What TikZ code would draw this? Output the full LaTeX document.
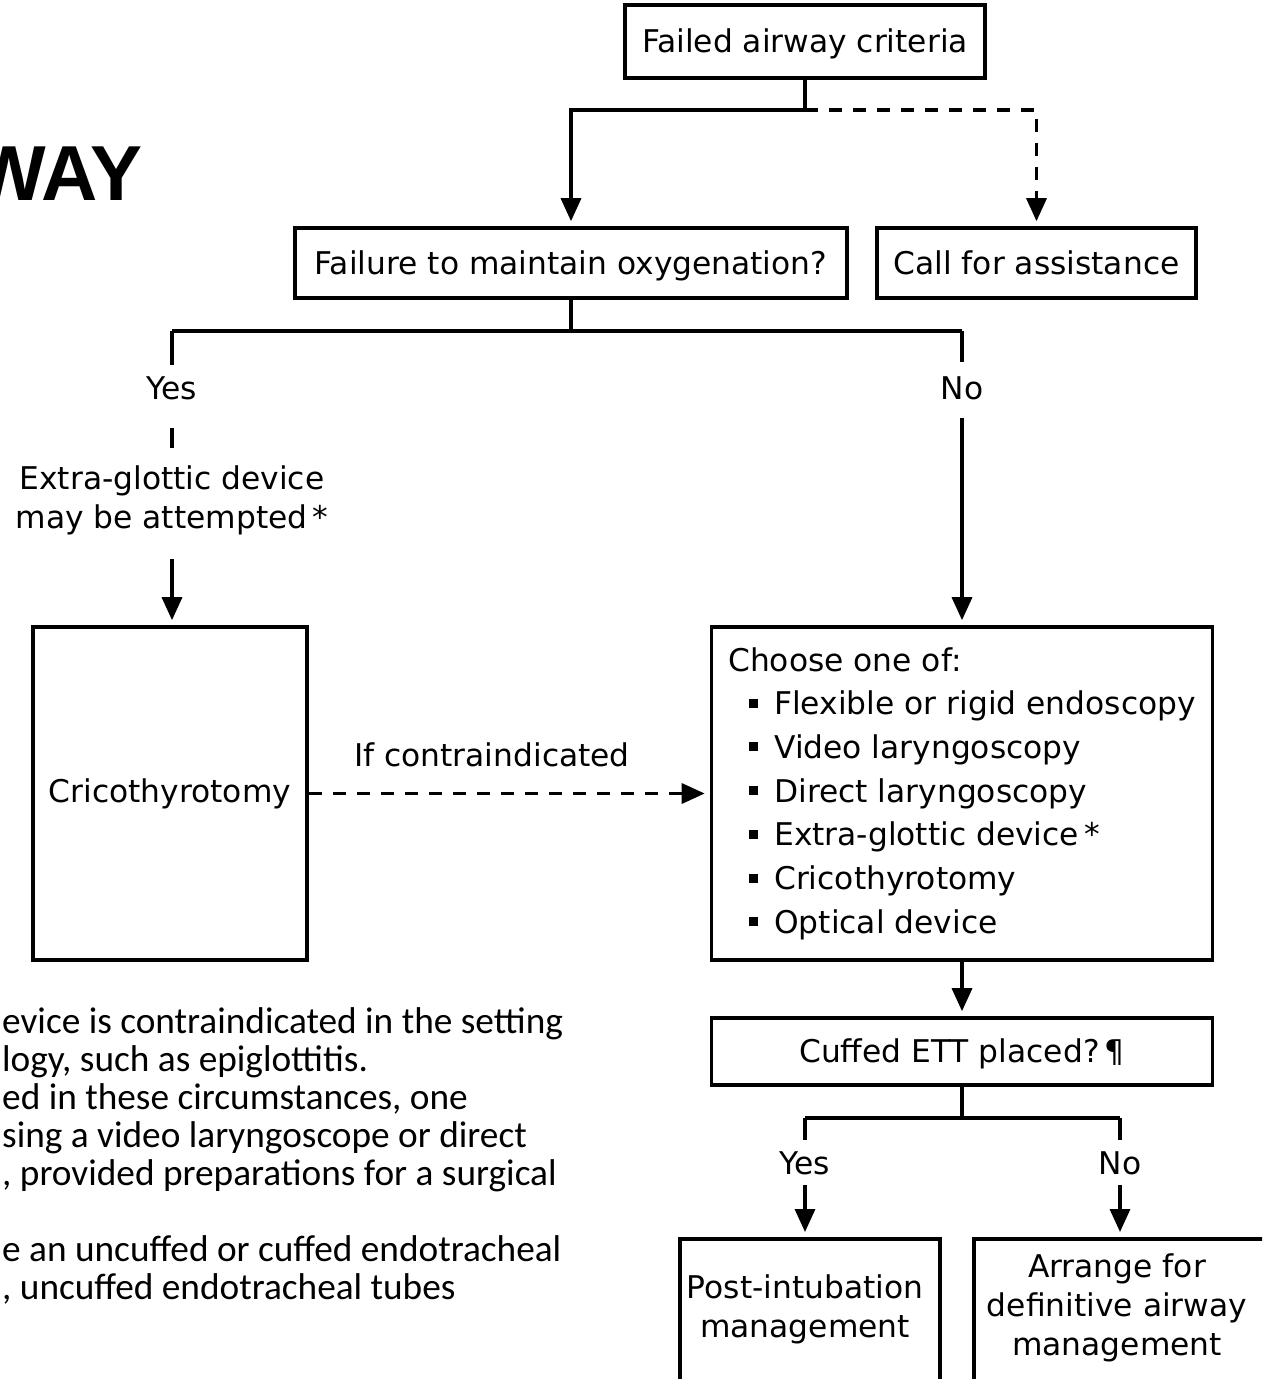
\documentclass[tikz,border=0pt]{standalone}
\usepackage{fontspec}
\setmainfont{DejaVu Sans}
\newfontfamily\notefont{Carlito}
\newfontfamily\titlefont{Liberation Sans}
\usetikzlibrary{arrows.meta}

% bullet for the option list
\newcommand\itm{\hspace*{21pt}\rule[7pt]{9pt}{9pt}\hspace*{16pt}}

\tikzset{
  box/.style={draw, line width=3.6pt, inner sep=0pt, align=center},
  onebox/.style={box, text height=27pt, text depth=4.5pt},
  lbl/.style={inner sep=0pt, align=center, text height=27pt, text depth=4.5pt},
  ml/.style={inner sep=0pt, align=center},
  ln/.style={line width=3.4pt},
  arr/.style={ln, -{Triangle[length=23pt,width=20pt]}, shorten >=5pt},
  dsh/.style={dash pattern=on 13pt off 11pt},
  note/.style={inner sep=0pt, anchor=base west, font=\notefont\fontsize{37.3}{38}\selectfont},
}

\begin{document}
\begin{tikzpicture}[x=1pt, y=-1pt, every node/.style={font=\fontsize{31.3}{39}\selectfont}]
\clip (0,0) rectangle (1262,1379);

% heading, partly outside the page
\node[inner sep=0pt, anchor=base east, font=\titlefont\bfseries\fontsize{78}{78}\selectfont] (ttl) at (143,200) {WAY};

% top of the chart
\node[onebox, minimum width=360pt, minimum height=73pt] (fac) at (805,41.5) {Failed airway criteria};
\node[onebox, minimum width=552pt, minimum height=70pt] (fmo) at (571,263) {Failure to maintain oxygenation?};
\node[onebox, minimum width=319pt, minimum height=70pt] (cfa) at (1036.5,263) {Call for assistance};

\coordinate (j1) at (805,110);
\draw[ln] (fac.south) -- (j1);
\draw[arr] (j1) -| (fmo.north);
\draw[arr, dsh] (j1) -| (cfa.north);

% oxygenation branch
\node[lbl] (yes1) at (172,388) {Yes};
\node[lbl] (no1) at (962,388) {No};
\node[ml] (egd) at (172,500) {Extra-glottic device\\may be attempted\,*};
\node[box, minimum width=274pt, minimum height=333pt] (cric) at (170,793.5) {Cricothyrotomy};
\node[box, minimum width=501pt, minimum height=333pt, align=left,
      font=\fontsize{31.3}{43.7}\selectfont] (choose) at (962,793.5)
  {Choose one of:\\
   \itm Flexible or rigid endoscopy\\
   \itm Video laryngoscopy\\
   \itm Direct laryngoscopy\\
   \itm Extra-glottic device\,*\\
   \itm Cricothyrotomy\\
   \itm Optical device};

\coordinate (j2) at (571,331);
\coordinate (lft) at (172,331);
\coordinate (rgt) at (962,331);
\draw[ln] (fmo.south) -- (j2);
\draw[ln] (lft) -- (rgt);
\draw[ln, shorten >=7pt] (lft) -- (yes1.north);
\draw[ln, shorten <=24pt, shorten >=17pt] (yes1.south) -- (egd.north);
\draw[arr, shorten <=24pt] (egd.south) -- (egd.south |- cric.north);
\draw[ln, shorten >=10pt] (rgt) -- (no1.north);
\draw[arr, shorten <=14pt] (no1.south) -- (choose.north);

\node[lbl] (ifc) at (492,755) {If contraindicated};
\draw[arr, dsh, shorten >=5pt] (cric.east) -- (choose.west);

% intubation outcome
\node[onebox, minimum width=501pt, minimum height=67pt] (cuffed) at (962,1051.5) {Cuffed ETT placed?\,¶};
\draw[arr] (choose.south) -- (cuffed.north);

\node[lbl] (yes2) at (805,1163) {Yes};
\node[lbl] (no2) at (1120,1163) {No};
\node[box, anchor=north, minimum width=260pt, minimum height=220pt] (post) at (810,1237) {};
\node[box, anchor=north west, minimum width=320pt, minimum height=220pt] (arrange) at (972,1237) {};
\node[ml] (posttxt) at (805,1309) {Post-intubation\\management};
\node[ml] (arrtxt) at (1117,1308) {Arrange for\\definitive airway\\management};

\coordinate (j3) at (962,1118);
\coordinate (l2) at (805,1118);
\coordinate (r2) at (1120,1118);
\draw[ln] (cuffed.south) -- (j3);
\draw[ln] (l2) -- (r2);
\draw[ln, shorten >=7pt] (l2) -- (yes2.north);
\draw[ln, shorten >=7pt] (r2) -- (no2.north);
\draw[arr, shorten <=6pt] (yes2.south) -- (yes2.south |- post.north);
\draw[arr, shorten <=6pt] (no2.south) -- (no2.south |- arrange.north);

% footnotes, running past the left edge
\node[note] (n1) at (2,1033) {evice is contraindicated in the setting};
\node[note] (n2) at (2,1071) {logy, such as epiglottitis.};
\node[note] (n3) at (2,1109) {ed in these circumstances, one};
\node[note] (n4) at (2,1147) {sing a video laryngoscope or direct};
\node[note] (n5) at (2,1185) {, provided preparations for a surgical};
\node[note] (n6) at (2,1261) {e an uncuffed or cuffed endotracheal};
\node[note] (n7) at (2,1299) {, uncuffed endotracheal tubes};
\end{tikzpicture}
\end{document}
